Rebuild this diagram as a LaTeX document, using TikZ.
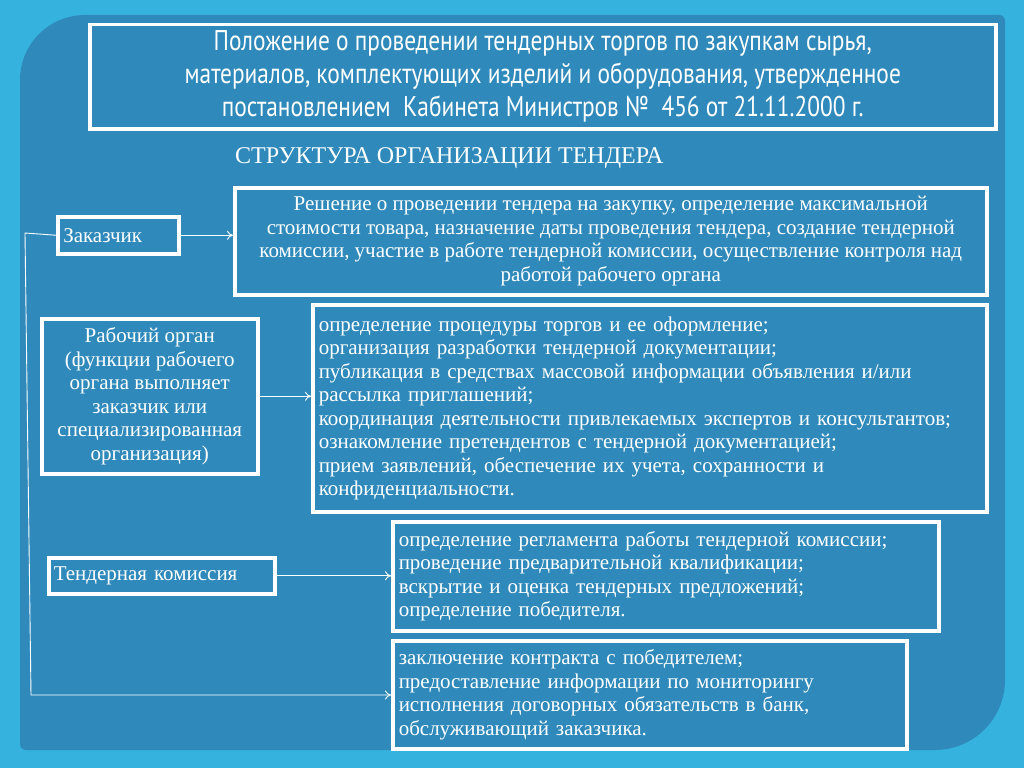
\documentclass[tikz,border=0pt]{standalone}
\usepackage{fontspec}
\usetikzlibrary{arrows.meta}
\setmainfont{Liberation Serif}
\newfontfamily\titlefont[FakeStretch=0.82]{PT Sans}
\begin{document}
\begin{tikzpicture}[x=1pt,y=-1pt,
  wbox/.style={draw=white,line width=3.5pt,inner sep=0pt,text=white},
  arr/.style={draw=white,line width=0.9pt,-{To[length=6pt,width=9pt]}},
  body/.style={font=\fontsize{21}{23.5}\selectfont}]
\definecolor{bgout}{HTML}{36B2DE}
\definecolor{panel}{HTML}{2F8ABB}
\fill[bgout] (0,0) rectangle (1024,768);
\useasboundingbox (0,0) rectangle (1024,768);
\fill[panel] (20,80) [rounded corners=65pt] -- (20,15) [rounded corners=6pt]-- (1005,15) [rounded corners=70pt] -- (1005,750) [rounded corners=6pt] -- (20,750) -- cycle;
% title
\node[wbox,minimum width=906pt,minimum height=104pt,anchor=north west,align=center,
  font=\titlefont\fontsize{28.5}{33}\selectfont] (title) at (88,23)
  {Положение о проведении тендерных торгов по закупкам сырья,\\
   материалов, комплектующих изделий и оборудования, утвержденное\\
   постановлением \ Кабинета Министров № \ 456 от 21.11.2000 г.};
\node[text=white,font=\fontsize{24}{26}\selectfont,anchor=west,inner sep=0pt] (head) at (235,158)
  {СТРУКТУРА ОРГАНИЗАЦИИ ТЕНДЕРА};
% right boxes
\node[wbox,body,anchor=north west,minimum width=752pt,minimum height=107pt,align=center] (b1) at (233,186)
  {Решение о проведении тендера на закупку, определение максимальной\\
   стоимости товара, назначение даты проведения тендера, создание тендерной\\
   комиссии, участие в работе тендерной комиссии, осуществление контроля над\\
   работой рабочего органа};
\node[wbox,body,anchor=north west,minimum width=674pt,minimum height=207pt,align=left,text width=662pt] (b2) at (311,303)
  {определение процедуры торгов и ее оформление;\\
   организация разработки тендерной документации;\\
   публикация в средствах массовой информации объявления и/или\\
   рассылка приглашений;\\
   координация деятельности привлекаемых экспертов и консультантов;\\
   ознакомление претендентов с тендерной документацией;\\
   прием заявлений, обеспечение их учета, сохранности и\\
   конфиденциальности.};
\node[wbox,body,anchor=north west,minimum width=546pt,minimum height=109pt,align=left,text width=534pt] (b3) at (391,520)
  {определение регламента работы тендерной комиссии;\\
   проведение предварительной квалификации;\\
   вскрытие и оценка тендерных предложений;\\
   определение победителя.};
\node[wbox,body,anchor=north west,minimum width=514pt,minimum height=108pt,align=left,text width=502pt] (b4) at (391,639)
  {заключение контракта с победителем;\\
   предоставление информации по мониторингу\\
   исполнения договорных обязательств в банк,\\
   обслуживающий заказчика.};
% left boxes
\node[wbox,body,anchor=north west,minimum width=121pt,minimum height=37pt,text width=110pt,align=left] (zak) at (56,215) {Заказчик};
\node[wbox,body,anchor=north west,minimum width=216pt,minimum height=155pt,align=center] (rab) at (40,317)
  {Рабочий орган\\(функции рабочего\\органа выполняет\\заказчик или\\специализированная\\организация)};
\node[wbox,body,anchor=north west,minimum width=226pt,minimum height=36pt,text width=216pt,align=left] (ten) at (47,556) {Тендерная комиссия};
\coordinate (c1) at (25,233);
\coordinate (c2) at (31,695);
% connectors
\draw[arr] (zak.east) -- (b1.west |- zak.east);
\draw[arr] (rab.east) -- (b2.west |- rab.east);
\draw[arr] (ten.east) -- (b3.west |- ten.east);
\draw[arr] (zak.west) -- (c1) -- (c2) -- (b4.west |- c2);
\end{tikzpicture}
\end{document}
